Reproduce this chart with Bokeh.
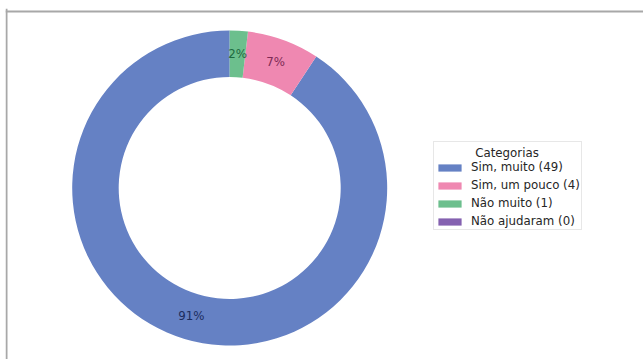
import numpy as np
from bokeh.plotting import figure
from bokeh.models import ColumnDataSource, Range1d, Span
from bokeh.embed import file_html
from bokeh.resources import INLINE
from bokeh.core.properties import value

# ---- data ----
categories = ["Sim, muito", "Sim, um pouco", "Não muito", "Não ajudaram"]
counts = [49, 4, 1, 0]
colors = ["#6581c4", "#ef88b1", "#6cbf8d", "#8461b0"]
label_colors = ["#1c2d5e", "#7d2a55", "#1e6a40", "#3d1f66"]
legend_title = "Categorias"

# ---- layout helpers (page pixels -> data units) ----
W, H = 638, 351
ox, oy = 5, 8


def px(x):
    return x - ox


def py(y):
    return (oy + H) - y


cx, cy = px(229.2), py(187.5)
R_out, R_in = 157.5, 111.0
pct_dist = 0.85
FONT = "DejaVu Sans"
FS = "11.8px"

total = float(sum(counts))
fracs = np.array(counts) / total
ends = np.pi / 2 + 2 * np.pi * np.cumsum(fracs)
starts = np.concatenate([[np.pi / 2], ends[:-1]])
mids = (starts + ends) / 2

p = figure(width=W, height=H, output_backend="svg", toolbar_location=None,
           x_range=Range1d(0, W), y_range=Range1d(0, H),
           min_border=0, margin=(oy, 0, 0, ox))
p.axis.visible = False
p.grid.visible = False
p.outline_line_color = None
p.background_fill_color = "white"
p.border_fill_color = "white"

for cat, n, s, e, col in zip(categories, counts, starts, ends, colors):
    # a zero-sized slice is not drawn (NaN centre) but keeps its legend entry
    xc = cx if n > 0 else np.nan
    src = ColumnDataSource(dict(x=[xc], start=[s], end=[e]))
    p.annular_wedge(x="x", y=cy, inner_radius=R_in, outer_radius=R_out,
                    start_angle="start", end_angle="end", direction="anticlock",
                    fill_color=col, line_color=None,
                    legend_label=f"{cat} ({n})", source=src)

# percentage labels (skip zero slices)
lx, ly, lt, lc = [], [], [], []
for n, m, col in zip(counts, mids, label_colors):
    if n == 0:
        continue
    r = pct_dist * R_out
    lx.append(cx + r * np.cos(m))
    ly.append(cy + r * np.sin(m))
    lt.append(f"{round(100 * n / total)}%")
    lc.append(col)
p.text(x=lx, y=ly, text=lt, text_color=lc, text_align="center",
       text_baseline="middle", text_font=value(FONT), text_font_size=FS)

# frame lines (top and left)
p.add_layout(Span(location=py(11), dimension="width", line_color="#a8a8a8", line_width=2))
p.add_layout(Span(location=1, dimension="height", line_color="#a8a8a8", line_width=2))

# legend
leg_left, leg_bottom, leg_right = 433, 230, 580
lg = p.legend[0]
lg.title = "\u00a0"
lg.title_text_font = FONT
lg.title_text_font_size = FS
lg.title_text_font_style = "normal"
lg.title_standoff = 3
lg.label_text_font = FONT
lg.label_text_font_size = FS
lg.label_text_color = "#262626"
lg.glyph_width = 29
lg.glyph_height = 9
lg.label_height = 10
lg.label_standoff = 7
lg.spacing = 4
lg.padding = 1
lg.margin = 0
lg.border_line_color = "#d0d0d0"
lg.border_line_width = 1
lg.background_fill_alpha = 0.0
lg.location = (px(leg_left), py(leg_bottom))

# centred legend title
p.text(x=[px((leg_left + leg_right) / 2)], y=[py(152.5)], text=[legend_title],
       text_align="center", text_baseline="middle", text_color="#262626",
       text_font=value(FONT), text_font_size=FS)

open("out.html", "w").write(file_html(p, INLINE))
